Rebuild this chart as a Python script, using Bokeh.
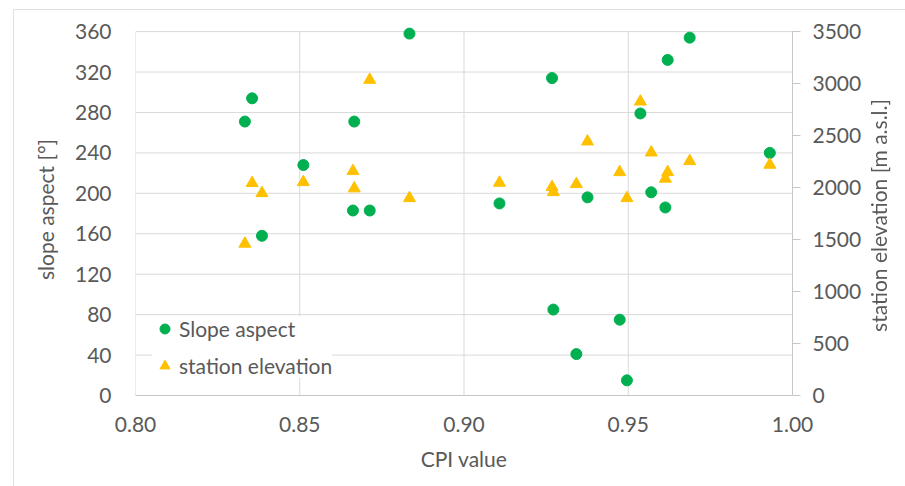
from bokeh.embed import file_html
from bokeh.models import (FixedTicker, InlineStyleSheet, Legend, LegendItem,
                          LinearAxis, NumeralTickFormatter, Range1d)
from bokeh.plotting import figure
from bokeh.resources import INLINE

# CPI value of each station and the two quantities plotted against it
cpi = [0.8333, 0.8355, 0.8385, 0.8511, 0.8662, 0.8666, 0.8713, 0.8834, 0.9108,
       0.9268, 0.9272, 0.9342, 0.9376, 0.9474, 0.9496, 0.9537, 0.9570, 0.9613,
       0.9620, 0.9687, 0.9931]
slope_aspect = [271, 294, 158, 228, 183, 271, 183, 358, 190, 314, 85, 41, 196,
                75, 15, 279, 201, 186, 332, 354, 240]
station_elevation = [1460, 2043, 1946, 2052, 2158, 1992, 3036, 1898, 2046, 2004,
                     1956, 2033, 2443, 2148, 1898, 2827, 2337, 2085, 2148, 2254,
                     2219]

x_ticks = [0.80, 0.85, 0.90, 0.95, 1.00]
aspect_ticks = [0, 40, 80, 120, 160, 200, 240, 280, 320, 360]
elevation_ticks = [0, 500, 1000, 1500, 2000, 2500, 3000, 3500]

X_MIN, X_MAX = 0.80, 1.00
ASPECT_MAX, ELEV_MAX = 360, 3500
# a little headroom above the top gridline so markers near 360° are not cut
HEADROOM = 368 / 360

FONT = "Lato"
FS = "21px"
TEXT = "#595959"
GRID = "#d9d9d9"
AXIS = "#c6c6c6"
FRAME = "#e0e0e0"
GREEN = "#00B050"
GOLD = "#FFC000"

p = figure(width=905, height=486, output_backend="svg", toolbar_location=None,
           x_range=Range1d(X_MIN, X_MAX),
           y_range=Range1d(0, ASPECT_MAX * HEADROOM),
           min_border_left=135, min_border_right=113, min_border_top=23,
           min_border_bottom=91, background_fill_color="white",
           border_fill_color="white", outline_line_color=None)
p.extra_y_ranges = {"elev": Range1d(0, ELEV_MAX * HEADROOM)}

# light frame line along the top and left of the chart
p.stylesheets = [InlineStyleSheet(css=(
    ":host::after { content: ''; position: absolute; left: 13px; top: 9px;"
    f" right: 0; bottom: 0; border-left: 1px solid {FRAME};"
    f" border-top: 1px solid {FRAME}; pointer-events: none; }}"))]

# gridlines, limited to the 0-360 band
p.xgrid.grid_line_color = None
p.ygrid.grid_line_color = None
p.segment(x0=x_ticks, y0=[0] * len(x_ticks), x1=x_ticks,
          y1=[ASPECT_MAX] * len(x_ticks), line_color=GRID, line_width=1)
p.segment(x0=[X_MIN] * len(aspect_ticks), y0=aspect_ticks,
          x1=[X_MAX] * len(aspect_ticks), y1=aspect_ticks,
          line_color=GRID, line_width=1)

# bottom axis
xa = p.xaxis[0]
xa.ticker = FixedTicker(ticks=x_ticks)
xa.formatter = NumeralTickFormatter(format="0.00")
xa.axis_label = "CPI value"
xa.axis_line_color = AXIS
xa.major_tick_line_color = None
xa.minor_tick_line_color = None
xa.major_label_standoff = 15
xa.axis_label_standoff = 11

# left axis
ya = p.yaxis[0]
ya.ticker = FixedTicker(ticks=aspect_ticks)
ya.axis_label = "slope aspect [°]"
ya.axis_line_color = None
ya.major_tick_line_color = None
ya.minor_tick_line_color = None
ya.major_label_standoff = 18
ya.axis_label_standoff = 14

# right axis for station elevation
ra = LinearAxis(y_range_name="elev", ticker=FixedTicker(ticks=elevation_ticks),
                bounds=(0, ELEV_MAX))
ra.axis_line_color = AXIS
ra.major_tick_line_color = AXIS
ra.major_tick_out = 8
ra.major_tick_in = 0
ra.minor_tick_line_color = None
ra.major_label_standoff = 12
p.add_layout(ra, "right")

for ax in (xa, ya, ra):
    ax.major_label_text_font = FONT
    ax.major_label_text_font_size = FS
    ax.major_label_text_color = TEXT
    ax.axis_label_text_font = FONT
    ax.axis_label_text_font_size = FS
    ax.axis_label_text_font_style = "normal"
    ax.axis_label_text_color = TEXT

# series
r_aspect = p.scatter(cpi, slope_aspect, marker="circle", size=11,
                     fill_color=GREEN, line_color=GREEN)
r_elev = p.scatter(cpi, station_elevation, marker="triangle", size=12,
                   fill_color=GOLD, line_color=GOLD, y_range_name="elev")

legend = Legend(items=[LegendItem(label="Slope aspect", renderers=[r_aspect]),
                       LegendItem(label="station elevation", renderers=[r_elev])],
                location=(17, 17), orientation="vertical",
                background_fill_color="white", background_fill_alpha=1.0,
                border_line_color=None, padding=6, spacing=12,
                glyph_width=25, glyph_height=25, label_height=25,
                label_standoff=2, margin=0,
                label_text_font=FONT, label_text_font_size=FS,
                label_text_color=TEXT)
p.add_layout(legend)

# transparent strip laid over the right edge, carrying the elevation axis
# title so that it reads bottom to top like the left-hand title
t = figure(width=43, height=486, output_backend="svg", toolbar_location=None,
           x_range=Range1d(0, 1), y_range=Range1d(0, 1),
           x_axis_location=None, y_axis_location="left",
           min_border_left=28, min_border_right=0, min_border_top=35,
           min_border_bottom=91, background_fill_alpha=0,
           border_fill_alpha=0, outline_line_color=None)
t.grid.grid_line_color = None
ty = t.yaxis[0]
ty.ticker = FixedTicker(ticks=[])
ty.axis_line_color = None
ty.major_tick_line_color = None
ty.minor_tick_line_color = None
ty.axis_label = "station elevation [m a.s.l.]"
ty.axis_label_standoff = 0
ty.axis_label_text_font = FONT
ty.axis_label_text_font_size = FS
ty.axis_label_text_font_style = "normal"
ty.axis_label_text_color = TEXT
t.stylesheets = [InlineStyleSheet(css=(
    ":host { position: fixed !important; left: 862px !important;"
    " top: 0 !important; pointer-events: none; }"))]

open("out.html", "w").write(file_html([p, t], INLINE))
